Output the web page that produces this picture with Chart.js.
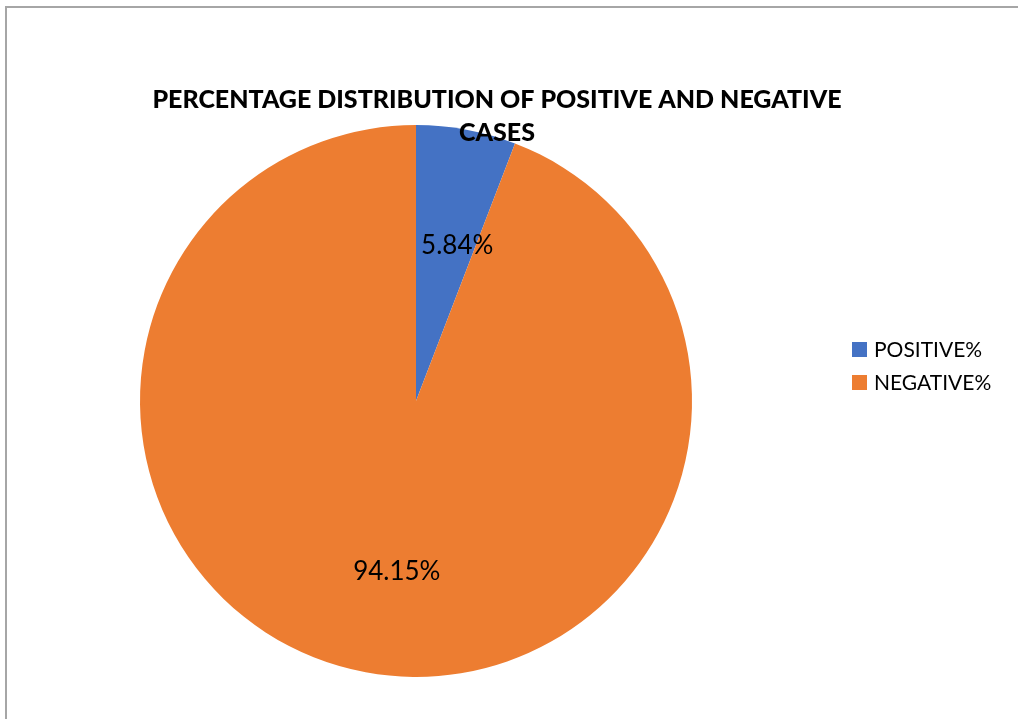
<!DOCTYPE html>
<html>
<head>
<meta charset="utf-8">
<script src="https://cdn.jsdelivr.net/npm/chart.js@4.4.1/dist/chart.umd.min.js"></script>
<style>
html,body{margin:0;padding:0;background:#fff;}
#wrap{width:1018px;height:719px;position:relative;}
</style>
</head>
<body>
<div id="wrap"><canvas id="c" width="1018" height="719"></canvas></div>
<script>
const categories = ["POSITIVE%", "NEGATIVE%"];
const values = [5.84, 94.15];
const valueLabels = ["5.84%", "94.15%"];
const colors = ["#4472C4", "#ED7D31"];
const titleLines = ["PERCENTAGE DISTRIBUTION OF POSITIVE AND NEGATIVE", "CASES"];

const TITLE_FONT = "900 25px Lato, 'Open Sans', sans-serif";
const LABEL_FONT = "26px Lato, 'Open Sans', sans-serif";
const LEGEND_FONT = "21px Lato, 'Open Sans', sans-serif";

const overlay = {
  id: 'overlay',
  beforeDraw(chart) {
    const ctx = chart.ctx;
    ctx.save();
    ctx.fillStyle = '#fff';
    ctx.fillRect(0, 0, chart.width, chart.height);
    ctx.strokeStyle = '#a6a6a6';
    ctx.lineWidth = 2;
    ctx.beginPath();
    ctx.moveTo(6, chart.height);
    ctx.lineTo(6, 7);
    ctx.lineTo(chart.width, 7);
    ctx.stroke();
    ctx.restore();
  },
  afterDraw(chart) {
    const ctx = chart.ctx;
    const meta = chart.getDatasetMeta(0);
    ctx.save();
    ctx.font = LABEL_FONT;
    ctx.fillStyle = '#000';
    ctx.textAlign = 'center';
    ctx.textBaseline = 'middle';
    const fr = [0.58, 0.62];
    meta.data.forEach((arc, i) => {
      const p = arc.getProps(['x','y','startAngle','endAngle','outerRadius'], true);
      const mid = (p.startAngle + p.endAngle) / 2;
      const d = p.outerRadius * fr[i];
      ctx.fillText(valueLabels[i], p.x + Math.cos(mid) * d + 12, p.y + Math.sin(mid) * d + 2);
    });
    ctx.font = TITLE_FONT;
    ctx.fillStyle = '#000';
    titleLines.forEach((t, i) => ctx.fillText(t, 497, 100 + i * 33));
    ctx.font = LEGEND_FONT;
    ctx.textAlign = 'left';
    categories.forEach((c, i) => {
      const y = 349 + i * 33;
      ctx.fillStyle = colors[i];
      ctx.fillRect(852, y - 7, 15, 15);
      ctx.fillStyle = '#000';
      ctx.fillText(c, 874, y + 1);
    });
    ctx.restore();
  }
};

new Chart(document.getElementById('c'), {
  type: 'pie',
  data: {
    labels: categories,
    datasets: [{ data: values, backgroundColor: colors, borderWidth: 0 }]
  },
  options: {
    responsive: false,
    animation: false,
    layout: { padding: { left: 140, right: 326, top: 125, bottom: 42 } },
    plugins: { legend: { display: false }, title: { display: false }, tooltip: { enabled: false } }
  },
  plugins: [overlay]
});
</script>
</body>
</html>
